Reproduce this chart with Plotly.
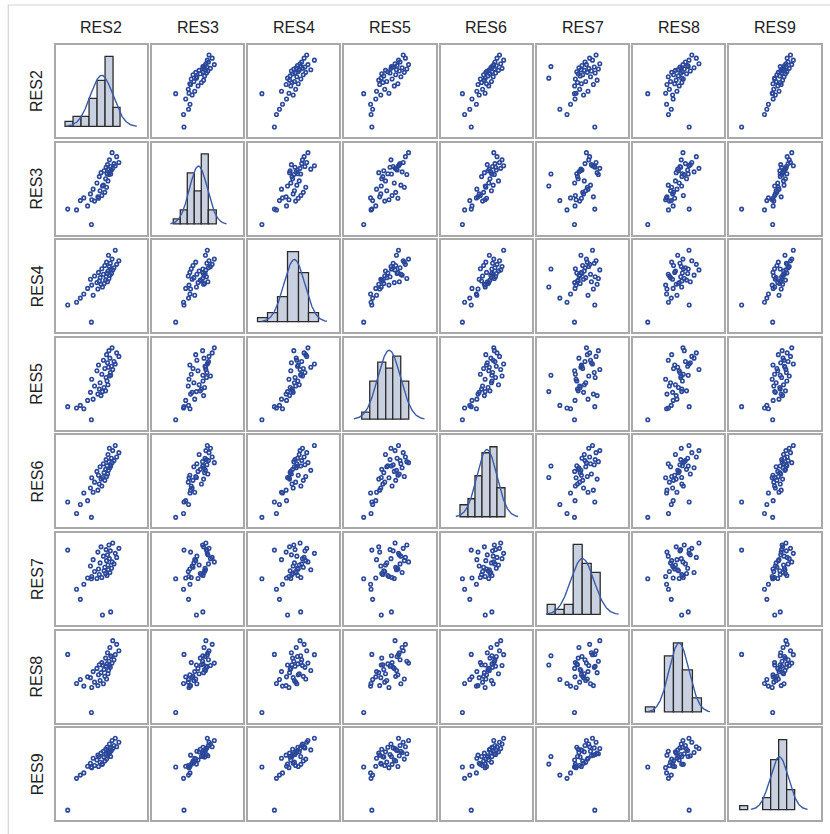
import numpy as np
import plotly.graph_objects as go

# Residuals for the eight series, one value per observation (40 observations)
names = ["RES2", "RES3", "RES4", "RES5", "RES6", "RES7", "RES8", "RES9"]

res2 = [-2.38, -0.88, -0.18, 0.34, -1.82, -1.58, -1.36, -1.12, -0.94, -0.86,
        -0.77, -0.68, -0.53, -0.47, -0.43, -0.38, -0.33, -0.27, -0.22, -0.12,
        -0.08, -0.03, 0.02, 0.05, 0.08, 0.11, 0.14, 0.17, 0.20, 0.23,
        0.26, 0.29, 0.32, 0.39, 0.43, 0.47, 0.55, 0.63, 0.72, 0.86]
res3 = [-1.27, -1.85, -0.40, 0.05, -1.30, -0.95, -0.85, -1.15, -0.70, -0.92,
        -0.52, -0.97, -0.29, -0.81, -0.86, -0.05, -0.58, 0.10, -0.76, -0.37,
        0.17, -0.64, -0.13, 0.30, -0.45, 0.06, 0.40, -0.21, 0.23, 0.03,
        0.58, 0.13, 0.33, 0.20, 0.85, 0.26, 0.44, 0.36, 0.70, 0.48]
res4 = [-1.20, -1.82, -0.55, 0.10, -1.10, -0.95, -0.80, -0.60, -0.27, -0.48,
        -0.85, -0.15, -0.39, -0.62, -0.02, -0.33, -0.21, -0.45, 0.11, -0.09,
        -0.42, 0.23, -0.30, -0.18, 0.35, -0.04, -0.36, 0.03, 0.60, -0.24,
        0.19, -0.12, 0.31, -0.06, 0.46, 0.07, 0.15, 0.78, 0.27, 0.40]
res5 = [-0.90, -1.42, -0.30, 0.35, -0.95, -0.85, -0.98, -0.65, -0.33, 0.19,
        -0.60, -0.08, 0.53, -0.40, 0.76, -0.20, 0.05, -0.46, 0.39, 0.95,
        -0.14, 0.62, -0.27, 0.26, 1.17, 0.12, 0.85, -0.03, 0.67, 1.33,
        0.32, 1.03, 0.46, 0.71, 1.44, 0.58, 0.90, 0.80, 1.24, 1.10]
res6 = [-1.30, -1.90, -0.35, 0.10, -1.75, -1.40, -0.95, -1.25, -0.76, -0.36,
        -0.92, -0.53, -0.11, -0.84, -0.26, -0.60, 0.07, -0.41, -0.68, 0.19,
        -0.16, -0.46, -0.03, 0.35, -0.31, 0.11, -0.21, 0.55, -0.07, 0.27,
        0.79, 0.03, 0.15, 0.40, 0.23, 0.70, 0.31, 0.90, 0.45, 0.62]
res7 = [0.66, -0.48, -1.92, -1.80, -0.90, -1.30, -0.70, -0.45, 0.03, -0.39,
        0.28, -0.19, -0.47, 0.58, -0.09, -0.31, 0.15, 0.79, -0.43, 0.42,
        -0.16, -0.02, -0.27, 0.68, 0.24, -0.35, 0.47, 0.07, -0.12, 0.86,
        0.32, -0.23, 0.63, -0.06, 0.19, 0.94, 0.11, 0.53, 0.37, 0.73]
res8 = [0.30, -1.90, -0.10, 0.25, -0.80, -0.65, -0.90, -0.55, -0.58, -0.95,
        -0.35, -0.75, -0.23, -0.88, -0.47, -0.09, -0.69, -0.39, -0.01, -0.81,
        -0.27, -0.53, 0.16, -0.15, -0.63, -0.06, 0.36, -0.43, -0.31, 0.04,
        -0.12, 0.56, -0.19, 0.22, -0.03, 0.82, 0.10, 0.29, 0.68, 0.44]
res9 = [-2.40, -0.43, -0.30, 0.05, -0.95, -0.80, -0.70, -0.40, -0.26, -0.46,
        -0.03, -0.36, -0.11, 0.11, -0.41, 0.05, -0.21, 0.20, -0.31, 0.29,
        0.02, -0.16, 0.38, 0.14, -0.07, 0.47, 0.08, 0.26, 0.35, 0.17,
        0.62, 0.23, 0.44, 0.32, 0.78, 0.41, 0.55, 0.88, 0.49, 0.70]

series = dict(zip(names, [np.array(v, dtype=float) for v in
                          (res2, res3, res4, res5, res6, res7, res8, res9)]))

# Histogram bin layout (start, end) with a common bin width
BIN_SIZE = 0.5
bin_edges = {"RES2": (-2.5, 1.0), "RES3": (-2.0, 1.0), "RES4": (-2.0, 1.0),
             "RES5": (-1.5, 1.5), "RES6": (-2.0, 1.0), "RES7": (-2.0, 1.0),
             "RES8": (-2.0, 1.0), "RES9": (-2.5, 1.0)}
# Horizontal extent of each column (room for the fitted normal curve)
x_ranges = {"RES2": (-3.14, 2.64), "RES3": (-3.51, 2.87), "RES4": (-2.50, 2.02),
            "RES5": (-2.65, 3.17), "RES6": (-3.38, 2.82), "RES7": (-2.59, 2.53),
            "RES8": (-2.68, 2.17), "RES9": (-3.18, 2.61)}

# Styling
W, H = 830, 834
LEFT0, XSTEP, PW = 55.7, 96.23, 91.3
TOP0, YSTEP, PH = 45.0, 97.6, 92.0
FRAME = "#A9A9A9"
MARKER = "#2A4799"
BAR_FILL = "#C9D1E1"
BAR_LINE = "#2B2B2B"
CURVE = "#3A5BA9"
FONT = "Liberation Sans, Arial, sans-serif"

fig = go.Figure()
layout = dict(width=W, height=H, autosize=False,
              margin=dict(l=0, r=0, t=0, b=0),
              paper_bgcolor="white", plot_bgcolor="white",
              showlegend=False, annotations=[], shapes=[])

axis_style = dict(showline=True, mirror=True, linecolor=FRAME, linewidth=1.5,
                  showticklabels=False, ticks="", showgrid=False,
                  zeroline=False, fixedrange=True)

n_vars = len(names)
for r, rn in enumerate(names):
    for c, cn in enumerate(names):
        k = r * n_vars + c + 1
        xs = "x" if k == 1 else f"x{k}"
        ys = "y" if k == 1 else f"y{k}"
        px0 = LEFT0 + c * XSTEP
        py0 = TOP0 + r * YSTEP
        xdom = [px0 / W, (px0 + PW) / W]
        ydom = [1 - (py0 + PH) / H, 1 - py0 / H]

        xv = series[cn]
        if r == c:
            start, end = bin_edges[cn]
            counts, _ = np.histogram(xv, bins=np.arange(start, end + BIN_SIZE / 2, BIN_SIZE))
            fig.add_trace(go.Histogram(
                x=xv, xbins=dict(start=start, end=end, size=BIN_SIZE),
                marker=dict(color=BAR_FILL, line=dict(color=BAR_LINE, width=1.3)),
                xaxis=xs, yaxis=ys, hoverinfo="skip"))
            mu, sd = xv.mean(), xv.std(ddof=1)
            gx = np.linspace(mu - 3.1 * sd, mu + 3.1 * sd, 200)
            gy = len(xv) * BIN_SIZE * np.exp(-0.5 * ((gx - mu) / sd) ** 2) / (sd * np.sqrt(2 * np.pi))
            fig.add_trace(go.Scatter(x=gx, y=gy, mode="lines",
                                     line=dict(color=CURVE, width=1.4),
                                     xaxis=xs, yaxis=ys, hoverinfo="skip"))
            top = max(counts.max(), gy.max())
            yrange = [-0.15 * top, 1.18 * top]
        else:
            yv = series[rn]
            fig.add_trace(go.Scatter(
                x=xv, y=yv, mode="markers",
                marker=dict(symbol="circle-open", size=3.5, color=MARKER,
                            line=dict(width=1.6, color=MARKER)),
                xaxis=xs, yaxis=ys, hoverinfo="skip"))
            lo, hi = yv.min(), yv.max()
            pad = 0.14 * (hi - lo)
            yrange = [lo - pad, hi + pad]

        xkey = "xaxis" if k == 1 else f"xaxis{k}"
        ykey = "yaxis" if k == 1 else f"yaxis{k}"
        layout[xkey] = dict(axis_style, domain=xdom, range=list(x_ranges[cn]), anchor=ys)
        layout[ykey] = dict(axis_style, domain=ydom, range=yrange, anchor=xs)

# Column headers and row labels
for i, nm in enumerate(names):
    cx = (LEFT0 + i * XSTEP + PW / 2) / W
    layout["annotations"].append(dict(
        text=nm, x=cx, y=1 - 27.7 / H, xref="paper", yref="paper",
        xanchor="center", yanchor="middle", showarrow=False,
        font=dict(family=FONT, size=16, color="#1E1E1E")))
    cy = 1 - (TOP0 + i * YSTEP + PH / 2) / H
    layout["annotations"].append(dict(
        text=nm, x=37 / W, y=cy, xref="paper", yref="paper",
        xanchor="center", yanchor="middle", showarrow=False, textangle=-90,
        font=dict(family=FONT, size=16, color="#1E1E1E")))

# Light outer border of the graph area
layout["shapes"].append(dict(type="rect", xref="paper", yref="paper",
                             x0=8.3 / W, x1=1.05, y0=-0.05, y1=1 - 5 / H,
                             line=dict(color="#D4D4D4", width=1.2)))

fig.update_layout(**layout)
fig.write_html("out.html")
